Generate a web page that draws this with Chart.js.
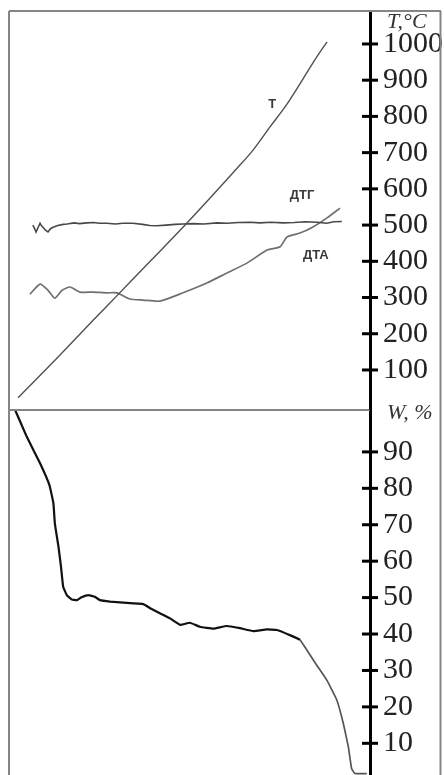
<!DOCTYPE html>
<html>
<head>
<meta charset="utf-8">
<script src="https://cdn.jsdelivr.net/npm/chart.js@4"></script>
<style>
    body { margin: 0; background: #fff; }
    #wrap { position: relative; width: 444px; height: 775px; overflow: hidden; }
    canvas { position: absolute; left: 0; }
    #top_chart { top: 0; }
    #bottom_chart { top: 395px; }
</style>
</head>
<body>
<div id="wrap">
    <canvas id="bottom_chart" width="444" height="380"></canvas>
    <canvas id="top_chart" width="444" height="410"></canvas>
</div>
<script>
// time axis (arbitrary units, 0..100 across the plot)
const timeT = [2.5, 13.6, 23.3, 30.2, 36.3, 42.7, 49.3, 55.7, 62.0, 67.6, 72.3, 77.0, 80.6, 84.2, 88.1];
const tempT = [23, 136, 237, 308, 371, 437, 506, 575, 644, 707, 771, 834, 890, 948, 1006];

const timeDTG = [6.6, 7.1, 7.5, 8.0, 8.6, 9.0, 9.4, 10.1, 10.8, 11.5, 12.2, 13.5, 15.0, 16.1, 18.0, 19.5, 21.6, 23.5, 25.0, 27.1, 29.5, 31.5, 34.3, 37.0, 39.0, 41.0, 43.5, 46.0, 48.2, 51.0, 54.0, 57.6, 60.5, 63.5, 66.8, 69.5, 72.5, 75.9, 79.0, 82.0, 85.3, 88.0, 90.0, 92.2];
const valDTG = [500, 490, 481, 492, 505, 498, 494, 486, 481, 490, 494, 499, 502, 503, 506, 504, 506, 507, 505, 505, 503, 505, 505, 502, 499, 498, 500, 502, 503, 504, 503, 506, 505, 507, 508, 506, 508, 506, 507, 509, 508, 505, 509, 510];

const timeDTA = [5.8, 8.6, 10.8, 12.7, 14.7, 16.9, 19.7, 23.3, 27.1, 29.9, 33.5, 37.1, 41.8, 48.2, 54.8, 60.4, 65.9, 71.5, 75.1, 77.0, 80.6, 84.2, 88.1, 91.7];
const valDTA = [309, 337, 320, 298, 320, 329, 315, 315, 313, 313, 296, 293, 290, 313, 340, 368, 395, 431, 440, 467, 478, 495, 520, 547];

const timeW = [1.7, 4.9, 8.6, 11.2, 12.3, 12.7, 13.7, 14.4, 15.0, 16.0, 17.4, 18.8, 20.1, 22.0, 23.8, 25.2, 28.0, 31.7, 37.2, 39.1, 41.8, 44.6, 47.4, 50.1, 52.9, 56.6, 60.3, 64.0, 67.7, 71.4, 74.2, 77.8, 80.6, 82.5, 85.2, 88.0, 90.8, 92.6, 94.0, 94.9, 95.8, 99.1];
const valW = [101.5, 94.2, 86.9, 80.9, 75.9, 70.4, 64.0, 58.5, 53.0, 50.7, 49.5, 49.3, 50.1, 50.7, 50.2, 49.3, 48.9, 48.6, 48.2, 47.1, 45.7, 44.3, 42.5, 43.1, 42.0, 41.5, 42.2, 41.6, 40.8, 41.3, 41.1, 39.7, 38.4, 35.6, 31.5, 27.4, 21.9, 15.5, 9.0, 3.1, 1.7, 1.7];

const tickT = [100, 200, 300, 400, 500, 600, 700, 800, 900, 1000];
const tickW = [10, 20, 30, 40, 50, 60, 70, 80, 90];

const curveNames = ["T", "ДТГ", "ДТА"];
const curveNameX = [72.9, 81.2, 85.0];
const curveNameY = [832, 583, 417];

function toPoints(xs, ys) {
    const pts = [];
    for (let i = 0; i < xs.length; i++) {
        pts.push({ x: xs[i], y: ys[i] });
    }
    return pts;
}

// frame, crossing ticks, axis titles and curve names
const decor = {
    id: "decor",
    afterDraw(chart, args, opts) {
        const ctx = chart.ctx;
        const a = chart.chartArea;
        const y = chart.scales.y;
        ctx.save();
        ctx.strokeStyle = "#858585";
        ctx.lineWidth = 2;
        ctx.beginPath();
        ctx.moveTo(a.left, a.top);
        ctx.lineTo(a.left, chart.height);
        ctx.moveTo(440.5, a.top);
        ctx.lineTo(440.5, chart.height);
        if (opts.top) {
            ctx.moveTo(a.left, a.top);
            ctx.lineTo(441, a.top);
        } else {
            ctx.moveTo(a.left, a.top);
            ctx.lineTo(a.right, a.top);
        }
        ctx.stroke();

        ctx.strokeStyle = "#000";
        ctx.lineWidth = 3;
        y.ticks.forEach(function(t) {
            const py = y.getPixelForValue(t.value);
            ctx.beginPath();
            ctx.moveTo(a.right - 8, py);
            ctx.lineTo(a.right + 8, py);
            ctx.stroke();
        });

        ctx.fillStyle = "#333";
        ctx.font = "italic 22px 'Liberation Serif'";
        ctx.textBaseline = "alphabetic";
        ctx.fillText(opts.title, 387, opts.titleY);

        if (opts.top) {
            const x = chart.scales.x;
            ctx.font = "bold 13px 'Liberation Sans'";
            ctx.textAlign = "center";
            ctx.textBaseline = "middle";
            ctx.fillStyle = "#3a3a3a";
            for (let i = 0; i < curveNames.length; i++) {
                ctx.fillText(curveNames[i], x.getPixelForValue(curveNameX[i]), y.getPixelForValue(curveNameY[i]));
            }
        }
        ctx.restore();
    }
};

function yScale(min, max, ticks) {
    return {
        position: "right",
        min: min,
        max: max,
        afterBuildTicks: function(s) { s.ticks = ticks.map(function(v) { return { value: v }; }); },
        afterFit: function(s) {
            s.width = 74;
            s.paddingTop = 0;
            s.paddingBottom = 0;
        },
        grid: { display: false, drawTicks: false },
        border: { display: true, color: "#000", width: 3 },
        ticks: {
            autoSkip: false,
            padding: 13,
            color: "#222",
            font: { family: "Liberation Serif", size: 30 },
            callback: function(v) { return String(v); }
        }
    };
}

const common = {
    responsive: false,
    animation: false,
    devicePixelRatio: 1,
    elements: { point: { radius: 0 } },
    parsing: false
};

new Chart(document.getElementById("top_chart").getContext("2d"), {
    type: "line",
    data: {
        datasets: [
            { label: "T", data: toPoints(timeT, tempT), borderColor: "#505050", borderWidth: 1.4, cubicInterpolationMode: "monotone" },
            { label: "ДТГ", data: toPoints(timeDTG, valDTG), borderColor: "#484848", borderWidth: 1.6, tension: 0 },
            { label: "ДТА", data: toPoints(timeDTA, valDTA), borderColor: "#707070", borderWidth: 1.7, tension: 0.2 }
        ]
    },
    options: Object.assign({}, common, {
        layout: { padding: { top: 11, left: 9, right: 0, bottom: 0 } },
        scales: {
            x: { type: "linear", min: 0, max: 100, display: false },
            y: yScale(-10.5, 1091, tickT)
        },
        plugins: {
            legend: { display: false },
            tooltip: { enabled: false },
            decor: { top: true, title: "T,°C", titleY: 28 }
        }
    }),
    plugins: [decor]
});

new Chart(document.getElementById("bottom_chart").getContext("2d"), {
    type: "line",
    data: {
        datasets: [{
            label: "W",
            data: toPoints(timeW, valW),
            borderColor: "#111",
            borderWidth: 2.2,
            tension: 0.1,
            segment: {
                borderColor: function(c) { return c.p0.parsed.x > 80 ? "#555" : "#111"; },
                borderWidth: function(c) { return c.p0.parsed.x > 80 ? 1.7 : 2.2; }
            }
        }]
    },
    options: Object.assign({}, common, {
        layout: { padding: { top: 15, left: 9, right: 0, bottom: 0 } },
        scales: {
            x: { type: "linear", min: 0, max: 100, display: false },
            y: yScale(1.3, 101.5, tickW)
        },
        plugins: {
            legend: { display: false },
            tooltip: { enabled: false },
            decor: { top: false, title: "W, %", titleY: 24 }
        }
    }),
    plugins: [decor]
});
</script>
</body>
</html>
